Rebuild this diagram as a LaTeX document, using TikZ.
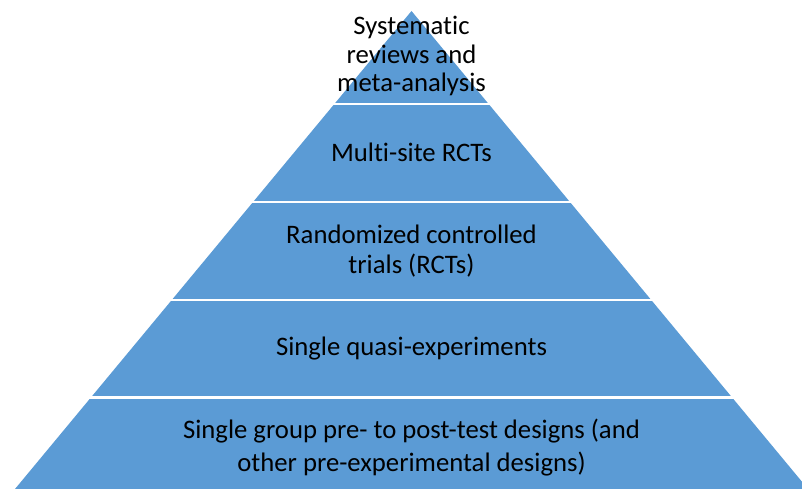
\documentclass[tikz,border=0pt]{standalone}
\usepackage{fontspec}
\setmainfont[RawFeature={-liga}]{Carlito}
\definecolor{pyrblue}{HTML}{5B9BD5}
\tikzset{
  band/.style={fill=pyrblue, draw=none},
  gapline/.style={draw=white, line width=2.6bp},
  lbl/.style={anchor=base, align=center, inner sep=0pt, text=black},
}
\begin{document}
\begin{tikzpicture}[x=1bp,y=-1bp]
\useasboundingbox (0,0) rectangle (802,489);
\clip (0,0) rectangle (802,489);
\coordinate (apex) at (411.5,11);
\coordinate (bl) at (15,489);
\coordinate (br) at (808,489);
\fill[band] (apex) -- (br) -- (bl) -- cycle;
\foreach \y in {104,202,300,397.5}{
  \draw[gapline] (0,\y) -- (802,\y);
}
% base anchor = baseline of the last line
\node[lbl, font=\fontsize{26.7bp}{28.5bp}\selectfont] (t1) at (411.5,92) {Systematic\\reviews and\\meta-analysis};
\node[lbl, font=\fontsize{26.7bp}{30bp}\selectfont] (t2) at (411.5,162) {Multi-site RCTs};
\node[lbl, font=\fontsize{26.7bp}{30bp}\selectfont] (t3) at (411.5,273.3) {Randomized controlled\\trials (RCTs)};
\node[lbl, font=\fontsize{26.7bp}{30bp}\selectfont] (t4) at (411.5,355) {Single quasi-experiments};
\node[lbl, font=\fontsize{26.7bp}{33.4bp}\selectfont] (t5) at (411.5,471.7) {Single group pre- to post-test designs (and\\other pre-experimental designs)};
\end{tikzpicture}
\end{document}
